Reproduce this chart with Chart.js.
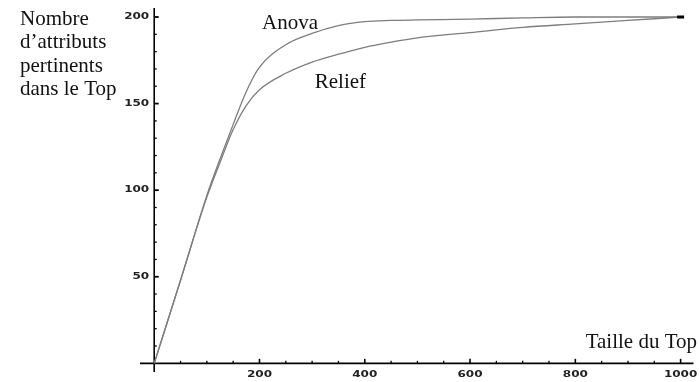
<!DOCTYPE html>
<html>
<head>
<meta charset="utf-8">
<style>
  html, body { margin: 0; padding: 0; background: #fff; }
  #wrap { width: 700px; height: 382px; }
</style>
<script src="https://cdn.jsdelivr.net/npm/chart.js@4/dist/chart.umd.min.js"></script>
</head>
<body>
<div id="wrap"><canvas id="c" width="700" height="382"></canvas></div>
<script>
// Size of the "Top" (number of attributes kept)
const topSizes = [0, 50, 100, 125, 150, 175, 200, 250, 300, 350, 400, 450, 500, 600, 700, 800, 900, 1000];
// Relevant attributes found inside the Top
const anova  = [0, 48, 97, 118, 138, 157, 171, 184, 190.5, 195, 197.3, 198, 198.3, 198.8, 199.5, 200, 200, 200];
const relief = [0, 48, 96, 116, 135, 149, 158, 167.5, 174, 178.5, 182.5, 185.5, 188, 191, 194, 196, 198, 200];

const xTickLabels = [200, 400, 600, 800, 1000];
const yTickLabels = [50, 100, 150, 200];
const xMinorStep = 50;
const yMinorStep = 10;

const seriesNames = ['Anova', 'Relief'];
const xTitle = 'Taille du Top';
const yTitle = ['Nombre', 'd\u2019attributs', 'pertinents', 'dans le Top'];

const pts = ys => topSizes.map((x, i) => ({ x: x, y: ys[i] }));
const endMark = (ctxp) => ctxp.dataIndex === topSizes.length - 1 ? 3.5 : 0;

// Mathematica-like axes crossing at the origin, drawn from the chart scales
const axesPlugin = {
  id: 'originAxes',
  beforeDatasetsDraw(chart) {
    const { ctx, scales: { x, y } } = chart;
    const x0 = x.getPixelForValue(0), y0 = y.getPixelForValue(0);
    ctx.save();
    ctx.strokeStyle = '#000';
    ctx.lineWidth = 1.6;
    ctx.beginPath();
    ctx.moveTo(x.left, y0); ctx.lineTo(x.right, y0);
    ctx.moveTo(x0, y.top); ctx.lineTo(x0, y.bottom);
    ctx.stroke();
    // x ticks (pointing up)
    for (let v = xMinorStep; v <= x.max; v += xMinorStep) {
      const px = x.getPixelForValue(v);
      const major = xTickLabels.includes(v);
      ctx.lineWidth = major ? 1.6 : 1.3;
      ctx.beginPath();
      ctx.moveTo(px, y0); ctx.lineTo(px, y0 - (major ? 4.5 : 2.5));
      ctx.stroke();
    }
    // y ticks (pointing right)
    for (let v = yMinorStep; v <= y.max; v += yMinorStep) {
      const py = y.getPixelForValue(v);
      const major = yTickLabels.includes(v);
      ctx.lineWidth = major ? 1.8 : 1.3;
      ctx.beginPath();
      ctx.moveTo(x0, py); ctx.lineTo(x0 + (major ? 4.5 : 2.5), py);
      ctx.stroke();
    }
    // tick labels: small bold, wide figures
    ctx.fillStyle = '#222';
    ctx.font = 'bold 8px "DejaVu Sans"';
    ctx.textBaseline = 'middle';
    const sx = 1.5;
    xTickLabels.forEach(v => {
      const px = x.getPixelForValue(v);
      ctx.save();
      ctx.translate(px, y0 + 12);
      ctx.scale(sx, 1);
      ctx.textAlign = 'center';
      ctx.fillText(String(v), 0, 0);
      ctx.restore();
    });
    yTickLabels.forEach(v => {
      const py = y.getPixelForValue(v);
      ctx.save();
      ctx.translate(x0 - 5, py);
      ctx.scale(sx, 1);
      ctx.textAlign = 'right';
      ctx.fillText(String(v), 0, 0);
      ctx.restore();
    });
    ctx.restore();
  },
  afterDraw(chart) {
    const { ctx, scales: { x, y } } = chart;
    ctx.save();
    ctx.fillStyle = '#111';
    ctx.font = '21px "Liberation Serif"';
    ctx.textBaseline = 'alphabetic';
    ctx.textAlign = 'left';
    yTitle.forEach((t, i) => ctx.fillText(t, 20, 25 + i * 23.3));
    ctx.textAlign = 'right';
    ctx.fillText(xTitle, 697, 348);
    // curve names placed beside their curves
    ctx.textAlign = 'left';
    ctx.fillText(seriesNames[0], x.getPixelForValue(205), y.getPixelForValue(193.3));
    ctx.fillText(seriesNames[1], x.getPixelForValue(305), y.getPixelForValue(159));
    ctx.restore();
  }
};

new Chart(document.getElementById('c'), {
  type: 'line',
  data: {
    datasets: [
      {
        label: seriesNames[0],
        data: pts(anova),
        borderColor: '#7d7d7d',
        borderWidth: 1.3,
        cubicInterpolationMode: 'monotone',
        pointStyle: 'line',
        pointRadius: endMark,
        pointBorderColor: '#000',
        pointBorderWidth: 3,
        pointHoverRadius: 0
      },
      {
        label: seriesNames[1],
        data: pts(relief),
        borderColor: '#7d7d7d',
        borderWidth: 1.3,
        cubicInterpolationMode: 'monotone',
        pointRadius: 0,
        pointHoverRadius: 0
      }
    ]
  },
  options: {
    responsive: false,
    animation: false,
    events: [],
    layout: { padding: { left: 140, right: 3, top: 8, bottom: 10 } },
    plugins: { legend: { display: false }, tooltip: { enabled: false } },
    scales: {
      x: { type: 'linear', min: -27, max: 1024.5, display: false },
      y: { type: 'linear', min: -5, max: 205.2, display: false }
    }
  },
  plugins: [axesPlugin]
});
</script>
</body>
</html>
